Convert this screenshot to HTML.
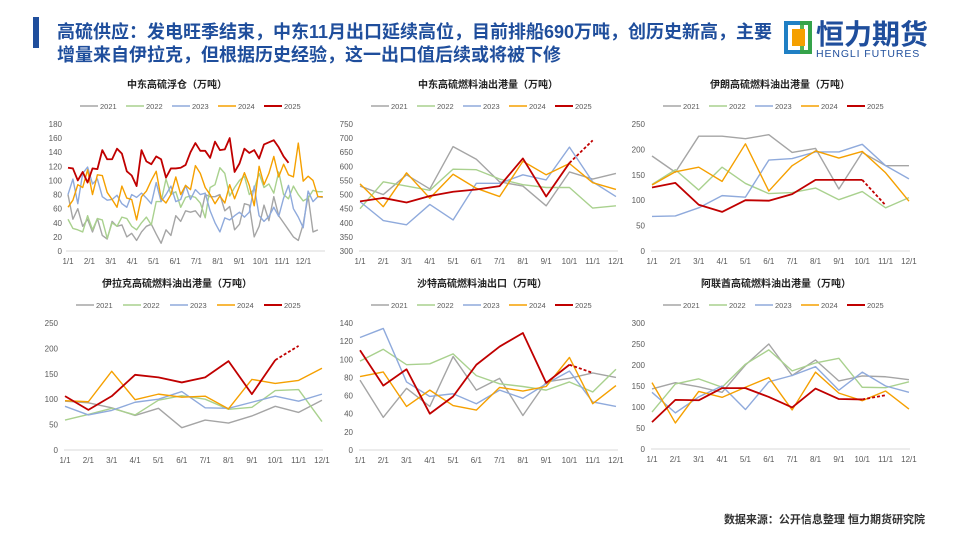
<!DOCTYPE html>
<html><head><meta charset="utf-8">
<style>
body{margin:0;width:960px;height:540px;overflow:hidden;background:#fff;font-family:"Liberation Sans","Noto Sans CJK SC",sans-serif;}
svg text{font-family:"Liberation Sans","Noto Sans CJK SC",sans-serif;}
</style></head>
<body>
<svg id="s" width="960" height="540" viewBox="0 0 960 540" xmlns="http://www.w3.org/2000/svg">
<rect x="33" y="17" width="6" height="31" fill="#1f4e9c"/>
<text x="57" y="38" font-size="18" font-weight="bold" fill="#1f4e9c">高硫供应：发电旺季结束，中东11月出口延续高位，目前排船690万吨，创历史新高，主要</text>
<text x="57" y="61" font-size="18" font-weight="bold" fill="#1f4e9c">增量来自伊拉克，但根据历史经验，这一出口值后续或将被下修</text>
<g>
<rect x="784" y="21" width="28" height="33" fill="#1f7fc4"/>
<rect x="788" y="25" width="20" height="25" fill="#fff"/>
<rect x="800" y="21" width="12" height="33" fill="#3aa935" opacity="0.85"/>
<rect x="804" y="25" width="4" height="25" fill="#fff"/>
<rect x="792" y="29" width="13" height="17" fill="#f5a000"/>
<text x="816" y="44" font-size="28" font-weight="bold" fill="#1f4e9c">恒力期货</text>
<text x="816" y="57" font-size="10.5" fill="#1f4e9c" letter-spacing="0.9">HENGLI FUTURES</text>
</g>
<text x="925" y="523" font-size="11" font-weight="bold" fill="#333" text-anchor="end">数据来源：公开信息整理   恒力期货研究院</text>
</svg>
<script>
const legendYears=['2021','2022','2023','2024','2025'];
const colors=['#a5a5a5','#a9d18e','#8faadc','#f5a000','#c00000'];
const monthLabels=['1/1','2/1','3/1','4/1','5/1','6/1','7/1','8/1','9/1','10/1','11/1','12/1'];

const float2021=[80,45,60,35,45,27,46,22,17,42,35,37,20,25,15,27,35,38,24,11,30,22,50,42,57,55,57,48,80,77,77,80,57,63,30,38,67,65,20,35,65,43,77,50,40,30,20,15,38,78,27,30];
const float2022=[45,32,30,27,50,30,46,44,18,40,35,48,46,35,30,40,48,37,70,70,102,80,84,62,76,78,76,68,47,90,94,118,110,78,90,100,106,80,88,110,90,95,82,112,80,74,92,80,71,75,86,84,84];
const float2023=[80,102,67,110,119,95,102,77,72,73,79,67,62,80,76,82,75,67,97,70,80,92,70,73,93,73,87,80,82,57,40,27,47,44,50,55,48,55,92,50,42,49,62,49,75,93,60,48,33,85,70,77,76];
const float2024=[62,72,94,90,115,80,108,107,83,73,62,92,75,73,44,77,85,100,113,75,68,80,105,80,93,87,121,110,90,80,67,78,68,94,74,92,111,93,64,120,94,110,134,105,123,108,105,153,99,106,100,77,77];
const float2025=[118,117,100,112,97,117,116,143,130,130,145,138,113,107,92,143,127,123,134,130,104,117,117,118,122,140,153,142,142,132,155,143,144,160,112,124,145,139,143,131,151,154,157,147,134,125];
const floatTicks=[0,20,40,60,80,100,120,140,160,180];

const me2021=[530,500,570,520,670,625,545,530,460,580,555,575];
const me2022=[450,545,530,515,590,588,555,535,525,525,452,460];
const me2023=[475,408,393,465,410,540,540,570,552,668,545,493];
const me2024=[538,457,577,487,572,522,493,618,570,610,542,518];
const me2025=[476,488,472,495,510,518,530,628,493,612];
const me2025Est=[612,692];
const meTicks=[300,350,400,450,500,550,600,650,700,750];

const ir2021=[187,155,226,226,221,229,194,202,122,194,168,168];
const ir2022=[131,160,120,165,133,113,115,124,101,117,85,105];
const ir2023=[68,69,85,109,106,179,182,195,195,210,168,142];
const ir2024=[130,156,165,137,211,118,168,197,183,196,154,98];
const ir2025=[125,134,91,77,100,99,112,140,140,140];
const ir2025Est=[140,90];
const irTicks=[0,50,100,150,200,250];

const iq2021=[96,93,83,68,82,44,59,53,67,86,74,98];
const iq2022=[59,70,82,69,98,107,100,80,84,117,119,56];
const iq2023=[86,69,78,94,100,115,83,82,94,106,96,110];
const iq2024=[97,95,155,99,110,104,106,81,139,131,137,161];
const iq2025=[106,79,106,148,143,133,143,175,110,177];
const iq2025Est=[177,205];
const iqTicks=[0,50,100,150,200,250];

const sa2021=[77,36,68,48,103,66,79,38,75,79,85,80];
const sa2022=[98,111,94,95,106,82,73,70,66,75,64,89];
const sa2023=[124,134,75,59,62,51,66,57,73,87,53,48];
const sa2024=[81,86,48,66,49,44,69,65,70,102,51,71];
const sa2025=[110,71,89,40,59,94,114,129,74,94];
const sa2025Est=[94,85];
const saTicks=[0,20,40,60,80,100,120,140];

const ae2021=[143,158,148,135,200,250,175,212,162,174,172,165];
const ae2022=[88,155,167,147,202,236,186,205,216,147,146,160];
const ae2023=[135,86,124,150,94,160,175,196,140,183,150,135];
const ae2024=[158,62,137,123,147,170,93,183,133,115,138,95];
const ae2025=[64,117,116,145,145,124,99,144,119,118];
const ae2025Est=[118,128];
const aeTicks=[0,50,100,150,200,250,300];

const NS='http://www.w3.org/2000/svg';
const svg=document.getElementById('s');
function mk(tag,attrs,parent){const e=document.createElementNS(NS,tag);for(const k in attrs)e.setAttribute(k,attrs[k]);(parent||svg).appendChild(e);return e;}

function chart(cfg){
  const g=mk('g',{});
  
  
  const ymin=cfg.ticks[0],ymax=cfg.ticks[cfg.ticks.length-1];
  const y=v=>cfg.y0-(v-ymin)/(ymax-ymin)*(cfg.y0-cfg.y1);
  const x=i=>cfg.x0+i*cfg.step;
  const t=mk('text',{x:cfg.tx,y:cfg.ty,'font-size':10,'font-weight':'bold',fill:'#222','text-anchor':'middle'},g);
  t.textContent=cfg.title;
  
  
  legendYears.forEach((yr,i)=>{
    const lg=mk('g',{},g);
    
    
    const lx=cfg.lx+i*cfg.lsp;
    mk('line',{x1:lx,y1:cfg.ly,x2:lx+18,y2:cfg.ly,stroke:colors[i],'stroke-width':i==4?2:1.6},lg);
    const tt=mk('text',{x:lx+20,y:cfg.ly+3,'font-size':7.5,fill:'#595959'},lg);
    tt.textContent=yr;
  });
  cfg.ticks.forEach(v=>{
    const tk=mk('text',{x:cfg.ylx,y:y(v)+3,'font-size':8,fill:'#595959','text-anchor':'end'},g);
    tk.textContent=v;
    
    
  });
  mk('line',{x1:cfg.ax0,y1:cfg.y0,x2:cfg.ax1,y2:cfg.y0,stroke:'#d9d9d9','stroke-width':1},g);
  monthLabels.forEach((m,i)=>{
    const xx=cfg.mx0+i*cfg.mstep;
    const tk=mk('text',{x:xx,y:cfg.y0+13,'font-size':8,fill:'#595959','text-anchor':'middle'},g);
    tk.textContent=m;
    
    
  });
  cfg.series.forEach((s,i)=>{
    const p=mk('polyline',{points:s.map((v,j)=>x(j)+','+y(v)).join(' '),fill:'none',stroke:colors[i],'stroke-width':i==4?1.8:1.4,'stroke-linejoin':'round'},g);
    
    
  });
  if(cfg.est){
    const n=cfg.series[4].length-1;
    const p=mk('polyline',{points:cfg.est.map((v,j)=>x(n+j)+','+y(v)).join(' '),fill:'none',stroke:colors[4],'stroke-width':1.8,'stroke-dasharray':'3,2'},g);
    
    
  }
}

chart({name:'chart-me-floating-storage',title:'中东高硫浮仓（万吨）',tx:177,ty:88,lx:80,lsp:46,ly:106,ticks:floatTicks,y0:251,y1:124,ylx:62,x0:68,step:4.9,mx0:68,mstep:21.4,ax0:66,ax1:325,
  series:[float2021,float2022,float2023,float2024,float2025]});
chart({name:'chart-me-exports',title:'中东高硫燃料油出港量（万吨）',tx:488,ty:88,lx:371,lsp:46,ly:106,ticks:meTicks,y0:251,y1:124,ylx:353,x0:360,step:23.27,mx0:360,mstep:23.27,ax0:359,ax1:618,
  series:[me2021,me2022,me2023,me2024,me2025],est:me2025Est});
chart({name:'chart-iran-exports',title:'伊朗高硫燃料油出港量（万吨）',tx:780,ty:88,lx:663,lsp:46,ly:106,ticks:irTicks,y0:251,y1:124,ylx:645,x0:652,step:23.36,mx0:652,mstep:23.36,ax0:651,ax1:910,
  series:[ir2021,ir2022,ir2023,ir2024,ir2025],est:ir2025Est});
chart({name:'chart-iraq-exports',title:'伊拉克高硫燃料油出港量（万吨）',tx:177,ty:287,lx:76,lsp:47,ly:305,ticks:iqTicks,y0:450,y1:323,ylx:58,x0:65,step:23.36,mx0:65,mstep:23.36,ax0:64,ax1:323,
  series:[iq2021,iq2022,iq2023,iq2024,iq2025],est:iq2025Est});
chart({name:'chart-saudi-exports',title:'沙特高硫燃料油出口（万吨）',tx:482,ty:287,lx:371,lsp:46,ly:305,ticks:saTicks,y0:450,y1:323,ylx:353,x0:360,step:23.27,mx0:360,mstep:23.27,ax0:359,ax1:618,
  series:[sa2021,sa2022,sa2023,sa2024,sa2025],est:sa2025Est});
chart({name:'chart-uae-exports',title:'阿联酋高硫燃料油出港量（万吨）',tx:776,ty:287,lx:663,lsp:46,ly:305,ticks:aeTicks,y0:449,y1:323,ylx:645,x0:652,step:23.36,mx0:652,mstep:23.36,ax0:651,ax1:910,
  series:[ae2021,ae2022,ae2023,ae2024,ae2025],est:ae2025Est});
</script>
</body></html>
